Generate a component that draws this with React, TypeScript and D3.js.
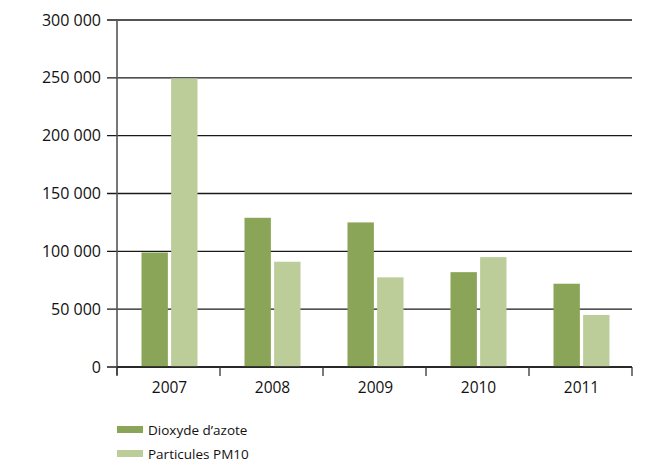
import React from "react";
import * as d3 from "d3";

const years = ["2007", "2008", "2009", "2010", "2011"];
const seriesNames = ["Dioxyde d\u2019azote", "Particules PM10"];
const no2 = [99000, 129000, 125000, 82000, 72000];
const pm10 = [249500, 91000, 77500, 95000, 45000];
const yTicks = [0, 50000, 100000, 150000, 200000, 250000, 300000];
const colors = ["#8aa557", "#bccd9a"];

const W = 659, H = 463;
const M = { left: 117, right: 27, top: 20, bottom: 96 };
const FONT = "'Open Sans', sans-serif";

export default function App() {
  const x = d3.scaleBand<string>().domain(years).range([M.left, W - M.right]);
  const y = d3.scaleLinear().domain([0, 300000]).range([H - M.bottom, M.top]);
  const inner = d3.scaleBand<number>().domain([0, 1]).range([0, 56]).paddingInner(0.11);
  const fmt = (v: number) => d3.format(",")(v).replace(/,/g, " ");
  const series = [no2, pm10];
  const y0 = y(0);
  return (
    <svg width={W} height={H} style={{ position: "absolute", left: 0, top: 0, background: "#fff" }}>
      {yTicks.map((t) => (
        <g key={t}>
          <line x1={107} x2={W - M.right} y1={y(t)} y2={y(t)} stroke="#1a1a1a" strokeWidth={1.3} />
          <text x={101} y={y(t)} dy="0.35em" textAnchor="end" fontFamily={FONT} fontSize={16} fill="#111">
            {fmt(t)}
          </text>
        </g>
      ))}
      {years.map((yr, i) => {
        const cx = (x(yr) as number) + x.bandwidth() / 2 + 1;
        return series.map((s, j) => (
          <rect key={yr + j} x={cx - 28 + (inner(j) as number)} width={inner.bandwidth()} y={y(s[i])} height={y0 - y(s[i])} fill={colors[j]} />
        ));
      })}
      <line x1={M.left} x2={M.left} y1={M.top} y2={y0 + 8} stroke="#555" strokeWidth={1.6} />
      <line x1={M.left} x2={W - M.right} y1={y0} y2={y0} stroke="#1a1a1a" strokeWidth={1.3} />
      {[...years.map((yr) => x(yr) as number), W - M.right].map((t, i) => (
        <line key={i} x1={t} x2={t} y1={y0} y2={y0 + 9} stroke="#333" strokeWidth={1.3} />
      ))}
      {years.map((yr) => (
        <text key={yr} x={(x(yr) as number) + x.bandwidth() / 2 + 1} y={y0 + 21} dy="0.35em" textAnchor="middle" fontFamily={FONT} fontSize={15.5} fill="#111">
          {yr}
        </text>
      ))}
      {seriesNames.map((n, j) => (
        <g key={n} transform={`translate(117, ${426 + j * 24})`}>
          <rect x={0} y={0} width={26} height={7} fill={colors[j]} />
          <text x={31} y={4} dy="0.35em" fontFamily={FONT} fontSize={13.5} fill="#111">{n}</text>
        </g>
      ))}
    </svg>
  );
}
